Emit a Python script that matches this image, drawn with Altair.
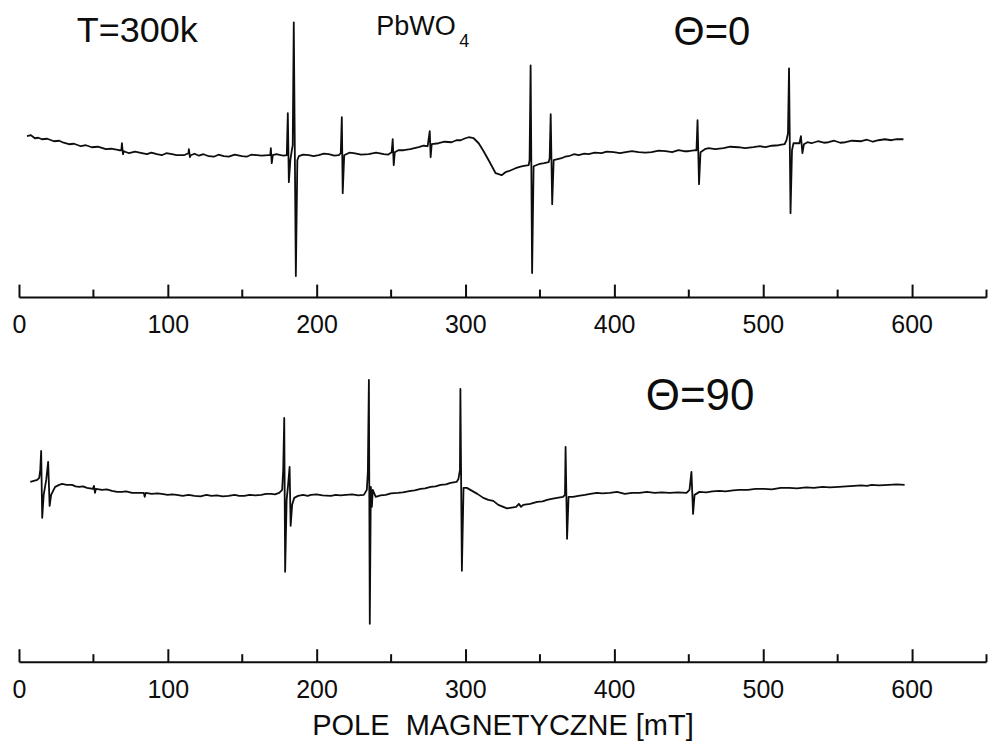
import altair as alt
import pandas as pd

# ---------------- data (field in mT, signal in arbitrary units) ----------------
# Theta = 0 spectrum
top_field = [5.4, 8.0, 10.7, 13.0, 15.4, 19.0, 23.5, 27.0, 30.0, 33.6, 37.0, 41.6, 45.0, 49.0,
             53.0, 58.4, 62.0, 67.2, 68.8, 69.2, 69.9, 70.5, 74.0, 78.0, 82.6, 86.0, 89.0,
             92.7, 96.0, 99.0, 102.8, 106.0, 110.8, 113.9, 114.2, 114.9, 115.5, 118.0, 121.0,
             124.0, 127.6, 131.0, 134.0, 137.7, 141.0, 145.0, 149.8, 153.0, 156.0, 159.9,
             163.0, 167.9, 168.9, 169.3, 169.9, 170.6, 173.0, 176.0, 178.0, 180.0, 180.7,
             181.4, 182.4, 183.4, 184.0, 184.7, 186.1, 187.1, 188.1, 191.0, 194.8, 198.0,
             201.5, 205.0, 208.2, 212.0, 215.0, 216.3, 217.0, 217.6, 218.6, 222.0, 225.0,
             230.0, 235.1, 240.0, 245.2, 248.0, 250.5, 251.2, 251.9, 252.6, 255.0, 258.6,
             263.0, 268.7, 272.0, 274.7, 276.1, 276.7, 277.4, 282.1, 286.0, 290.8, 294.0,
             296.9, 300.0, 302.3, 305.6, 309.0, 312.3, 315.7, 320.4, 324.4, 327.0, 329.1,
             333.8, 336.0, 338.5, 342.6, 343.2, 343.9, 344.9, 345.9, 349.3, 353.0, 356.0,
             356.7, 357.4, 358.4, 359.4, 364.7, 367.0, 369.4, 373.0, 376.2, 380.0, 382.9,
             387.0, 391.6, 395.0, 399.7, 404.0, 407.8, 412.0, 416.5, 421.0, 425.2, 430.0,
             434.6, 439.0, 443.3, 447.0, 450.0, 454.8, 455.4, 456.1, 457.1, 458.1, 461.0,
             463.5, 468.0, 473.6, 478.0, 483.6, 488.0, 493.7, 498.0, 501.8, 506.0, 510.5,
             514.6, 515.9, 516.9, 517.6, 518.6, 519.6, 520.6, 524.6, 525.6, 526.6, 527.6,
             530.0, 532.7, 537.0, 541.0, 544.1, 548.0, 552.0, 555.5, 560.0, 566.2, 570.0,
             574.0, 577.7, 582.0, 586.4, 590.0, 594.5]
top_signal = [19, 20, 17, 17.5, 16, 16.5, 14, 14.5, 12.5, 11, 11.5, 9, 10, 8,
              8.5, 6, 6.5, 5, 5, 12, 1, 4, 2, 3.5, 2, 1, 2.5,
              1, 0, 2, 1, 0, 0, 2, 6, -2, 0, 1.5, -0.5,
              1, -1, -1.5, 0.5, -1, -1.5, 0.5, -1, -1.5, 0.5, 0,
              -0.5, 0, 0, 7, -8, 0, 1, 0, -0.5, 0, 42,
              -27, -5, 5, 10, 133, -121, -5, -1, 0.5, 0, -1,
              0, 1.5, 1, -0.5, 0, 2, 38, -38, 0, 2.5, 2,
              0.5, 1, 2.5, 1, 0.5, 3, 16, -10, 3, 5, 5,
              6, 8, 9.5, 9, 24, -2, 11, 12, 13.5, 13, 15,
              15, 17, 18, 17, 12, 4, -5, -18, -20, -17, -16,
              -13, -12, -11, -10, -5, 90, -118, -11, -9, -8, -7,
              -3, 41, -49, -5, -3, -1.5, -1, 1, 0, 1.5, 1,
              2.5, 2, 3.5, 3, 2, 3, 4, 3, 2.5, 3, 4.5,
              4, 3, 5, 4, 4, 5, 5, 35, -29, 3, 6,
              7, 6, 7, 8.5, 8, 7, 8, 9, 8, 9.5, 10,
              11, 15, 22, 87, -58, 5, 12, 12, 19, 2, 11,
              13, 12, 14, 12.5, 13, 14.5, 12.5, 13, 14.5, 14, 15.5,
              13.5, 15, 16, 15, 16, 16]

# Theta = 90 spectrum
bot_field = [7.6, 12.3, 13.6, 14.3, 14.9, 15.6, 16.6, 18.3, 19.6, 20.6, 21.6, 24.3, 27.0,
             29.0, 32.0, 35.7, 38.0, 40.4, 43.0, 45.7, 49.7, 50.4, 51.1, 51.7, 55.8, 59.0,
             62.5, 66.0, 69.2, 72.0, 76.0, 80.5, 83.9, 84.5, 85.2, 89.2, 93.0, 95.9, 100.0,
             103.0, 106.0, 110.0, 114.0, 118.0, 122.0, 126.0, 129.4, 133.0, 137.0, 140.8,
             145.0, 148.0, 151.5, 155.0, 159.0, 162.9, 166.0, 169.6, 172.0, 174.9, 176.9,
             177.6, 178.3, 178.9, 179.9, 180.9, 181.9, 182.6, 183.6, 185.0, 187.6, 191.0,
             194.0, 196.3, 200.0, 204.0, 209.7, 213.0, 216.0, 219.8, 224.0, 228.0, 231.8,
             233.8, 234.5, 235.2, 235.8, 236.5, 237.2, 237.8, 239.8, 243.0, 246.5, 250.0,
             254.6, 258.0, 263.3, 266.0, 270.0, 273.0, 276.7, 280.0, 283.4, 287.0, 290.1,
             294.1, 295.4, 296.4, 296.7, 297.7, 298.8, 301.0, 303.4, 308.1, 312.1, 315.5,
             318.8, 322.2, 325.5, 328.0, 330.2, 334.2, 336.0, 337.5, 338.9, 343.6, 348.3,
             352.0, 355.0, 358.0, 361.7, 365.7, 367.0, 367.4, 368.4, 369.4, 372.4, 376.0,
             380.4, 384.0, 388.5, 392.0, 397.2, 402.0, 407.2, 412.0, 417.2, 422.0, 427.3,
             432.0, 437.3, 443.0, 448.7, 450.7, 452.0, 453.1, 454.1, 457.4, 462.0, 466.0,
             470.8, 475.0, 480.0, 484.2, 490.0, 495.0, 500.9, 506.0, 512.0, 517.7, 523.0,
             529.0, 534.4, 540.0, 545.0, 551.1, 556.0, 561.2, 566.0, 570.0, 573.2, 578.0,
             584.6, 590.0, 595.3]
bot_signal = [13, 15, 17, 25, 44, -23, 0, 15, 33, -11, 0, 8, 10,
              11, 10, 10, 8.5, 8, 8.5, 7, 6, 9, 2, 6, 5, 5.5,
              4, 3, 3, 3.5, 2, 2, 2, -2, 2, 1, 1.5, 1, 0,
              0.5, 0, -1, 0, -1, -1.5, 0, -1, -0.5, -1.5, -1,
              0, -1, -1, 0, -0.5, 0, 1, 1, 0.5, 2, 5,
              25, 77, -77, -5, 10, 28, -31, -10, -3, -1, 0,
              -1, 0, 0.5, -0.5, -1, 0, -0.5, 0, 0.5, -0.5, 0,
              5, 23, 115, -129, 8, -12, 5, -2, -0.5, 0, 1.5,
              2, 2.5, 4, 4.5, 6, 6.5, 8, 8.5, 10, 10.5, 12,
              13, 16, 25, 106, -76, 7, 7, 5, 1, -3, -5,
              -6, -10, -12, -13.5, -13, -12, -9, -12, -10, -9, -7,
              -6.5, -5, -4, -3, -2, 0, 48, -44, -2, -2, -1,
              0, 1, 2, 1.5, 2, 3, 1, 2, 2, 3, 2,
              2.5, 2, 2.5, 2, 5, 23, -19, 0, 3, 2.5, 3.5,
              4, 3.5, 4.5, 5, 5, 6, 6, 5.5, 7, 7, 6.5,
              7.5, 7, 8, 7.5, 8, 8.5, 9, 9.5, 9, 10, 9.5,
              10, 10.5, 10]

label_values = [0, 100, 200, 300, 400, 500, 600]
tick_values = [0, 50, 100, 150, 200, 250, 300, 350, 400, 450, 500, 550, 600, 650]

top_ann_text = ["T=300k", "PbWO", "4", "\u0398=0"]
top_ann_x = [38.9, 240.1, 296.0, 440.0]
top_ann_y = [113, 120, 108, 110.5]
top_ann_size = [36, 27, 18, 40]

bot_ann_text = ["\u0398=90"]
bot_ann_x = [421.3]
bot_ann_y = [85]
bot_ann_size = [44]

x_title = "POLE \u00a0MAGNETYCZNE [mT]"

# ---------------- chart ----------------
FONT = "Liberation Sans"
INK = "#0d0d0d"
W = 968
x_scale = alt.Scale(domain=[0, 650], nice=False, zero=False)


def panel(field, signal, ydom, height, a_text, a_x, a_y, a_size, title, label_pad):
    df = pd.DataFrame({"B": field, "S": signal, "i": list(range(len(field)))})
    y_scale = alt.Scale(domain=ydom, nice=False, zero=False)
    axis_kwargs = dict(
        orient="bottom", values=label_values, ticks=False, tickSize=0, domain=True,
        domainColor=INK, domainWidth=2, grid=False, labelFont=FONT, labelFontSize=25,
        labelColor=INK, labelPadding=label_pad, labelFlush=False, labelOverlap=False,
        titleFont=FONT, titleFontSize=29, titleFontWeight="normal", titleColor=INK,
        titlePadding=9, title=title,
    )
    line = alt.Chart(df).mark_line(color=INK, strokeWidth=1.8, strokeJoin="round").encode(
        x=alt.X("B:Q", scale=x_scale, axis=alt.Axis(**axis_kwargs)),
        y=alt.Y("S:Q", scale=y_scale, axis=None),
        order="i:Q",
    )
    ticks = alt.Chart(pd.DataFrame({"t": tick_values})).mark_point(opacity=0).encode(
        x=alt.X("t:Q", scale=x_scale, axis=alt.Axis(
            orient="top", offset=-height, values=tick_values, labels=False, domain=False,
            ticks=True, tickColor=INK, tickWidth=2, grid=False, title=None,
            tickSize={"condition": {"test": "datum.value % 100 === 0", "value": 13}, "value": 8},
        )),
    )
    ann_df = pd.DataFrame({"x": a_x, "y": a_y, "t": a_text, "s": a_size})
    ann = alt.Chart(ann_df).mark_text(align="left", baseline="alphabetic", font=FONT, color=INK).encode(
        x=alt.X("x:Q", scale=x_scale, axis=None),
        y=alt.Y("y:Q", scale=y_scale, axis=None),
        text="t:N",
        size=alt.Size("s:Q", scale=None, legend=None),
    )
    return alt.layer(line, ticks, ann).resolve_axis(x="independent").properties(width=W, height=height)


top = panel(top_field, top_signal, [-142, 147], 289, top_ann_text, top_ann_x, top_ann_y,
            top_ann_size, None, 15)
bottom = panel(bot_field, bot_signal, [-167, 122], 289, bot_ann_text, bot_ann_x, bot_ann_y,
               bot_ann_size, x_title, 16)

chart = alt.vconcat(top, bottom, spacing=36).properties(
    padding={"left": 4, "top": 0, "right": 0, "bottom": 0}
).configure_view(stroke=None)

chart.save("out.html", embed_options={"renderer": "svg", "actions": False})
